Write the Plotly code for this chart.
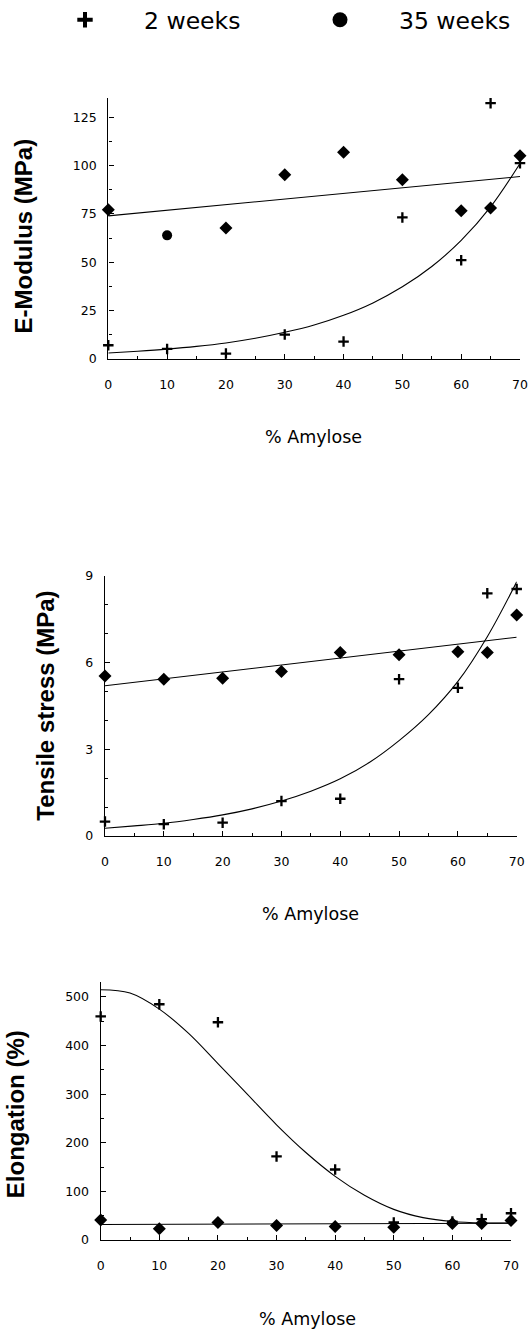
import plotly.graph_objects as go

# ---------------- data ----------------
amylose = [0, 10, 20, 30, 40, 50, 60, 65, 70]

emod_2w = [7.1, 5.2, 2.8, 12.6, 9.0, 73.2, 51.1, 132.2, 101.2]
emod_35w = [77.1, 63.9, 67.7, 95.2, 106.9, 92.6, 76.6, 78.0, 105.0]

tens_2w = [0.50, 0.41, 0.46, 1.21, 1.29, 5.43, 5.13, 8.40, 8.55]
tens_35w = [5.54, 5.43, 5.46, 5.69, 6.35, 6.27, 6.38, 6.35, 7.65]

elong_2w = [460, 485, 448, 172, 145, 36, 38, 43, 55]
elong_35w = [41, 23, 36, 30, 28, 26, 34, 34, 40]

# fitted curves as drawn in the reference
curve_x = [0, 5, 10, 15, 20, 25, 30, 35, 40, 45, 50, 55, 60, 65, 70]
emod_2w_fit = [3.1, 4.0, 5.1, 6.5, 8.3, 10.7, 13.8, 17.6, 22.6, 29.0, 37.3, 47.8, 61.3, 78.6, 101.0]
tens_2w_fit = [0.27, 0.35, 0.44, 0.57, 0.73, 0.94, 1.21, 1.55, 1.98, 2.55, 3.30, 4.20, 5.35, 6.90, 8.80]
elong_2w_fit = [515, 508, 475, 425, 363, 300, 237, 180, 131, 92, 63, 46, 38, 35, 35]

line_x = [0, 70]
emod_35w_fit = [74.0, 94.3]
tens_35w_fit = [5.20, 6.88]
elong_35w_fit = [32, 34.5]

legend_labels = ["2 weeks", "35 weeks"]
x_title = "% Amylose"
y_titles = ["E-Modulus (MPa)", "Tensile stress (MPa)", "Elongation (%)"]

# ---------------- figure ----------------
W, H = 529, 1330
REG = "DejaVu Sans, Liberation Sans, Arial, sans-serif"
BOLD = "Liberation Sans, Arial, Helvetica, sans-serif"

fig = go.Figure()

plus = dict(symbol="cross-thin", size=7.5, color="black", line=dict(color="black", width=2.3))
diam = dict(symbol="diamond", size=10, color="black", line=dict(width=0))


def add_panel(ax, y2w, y35w, fit2w, fit35w, sym35=None):
    xa = "x" if ax == 1 else f"x{ax}"
    ya = "y" if ax == 1 else f"y{ax}"
    fig.add_trace(go.Scatter(x=curve_x, y=fit2w, mode="lines",
                             line=dict(color="black", width=1.1, shape="spline", smoothing=1.0),
                             xaxis=xa, yaxis=ya, showlegend=False, hoverinfo="skip"))
    fig.add_trace(go.Scatter(x=line_x, y=fit35w, mode="lines", line=dict(color="black", width=1.1),
                             xaxis=xa, yaxis=ya, showlegend=False, hoverinfo="skip"))
    m35 = dict(diam)
    if sym35 is not None:
        m35["symbol"] = sym35
    fig.add_trace(go.Scatter(x=amylose, y=y35w, mode="markers", marker=m35, cliponaxis=False,
                             xaxis=xa, yaxis=ya, showlegend=False))
    fig.add_trace(go.Scatter(x=amylose, y=y2w, mode="markers", marker=plus, cliponaxis=False,
                             xaxis=xa, yaxis=ya, showlegend=False))


sym_e = ["diamond", "circle", "diamond", "diamond", "diamond", "diamond", "diamond", "diamond", "diamond"]
add_panel(1, emod_2w, emod_35w, emod_2w_fit, emod_35w_fit, sym_e)
add_panel(2, tens_2w, tens_35w, tens_2w_fit, tens_35w_fit)
add_panel(3, elong_2w, elong_35w, elong_2w_fit, elong_35w_fit)

# legend-only traces (two separate legends to match the spacing)
fig.add_trace(go.Scatter(x=[None], y=[None], mode="markers", name=legend_labels[0], legend="legend",
                         marker=dict(symbol="cross-thin", size=11, color="black",
                                     line=dict(color="black", width=4))))
fig.add_trace(go.Scatter(x=[None], y=[None], mode="markers", name=legend_labels[1], legend="legend2",
                         marker=dict(symbol="circle", size=15, color="black")))


def px_x(p):
    return p / W


def px_y(p):
    return 1 - p / H


panels = [
    # (x0, x1, ytop, ybottom, yrange, dtick, minor)
    (108.3, 520.0, 98.0, 359.0, [0, 134.9], 25, 12.5),
    (105.0, 516.7, 576.0, 836.0, [0, 9], 3, 1),
    (100.7, 511.0, 982.0, 1240.0, [0, 530.8], 100, 50),
]

axis_common = dict(showgrid=False, zeroline=False, showline=True, linecolor="black", linewidth=1.4,
                   ticks="inside", ticklen=5, tickwidth=1.2, tickcolor="black",
                   tickfont=dict(family=REG, size=12.5, color="black"))

layout = dict(width=W, height=H, margin=dict(l=0, r=0, t=0, b=0, autoexpand=False),
              paper_bgcolor="white", plot_bgcolor="white", font=dict(family=REG, color="black"))

for i, (x0, x1, yt, yb, yr, dt, mn) in enumerate(panels, start=1):
    sx = "xaxis" if i == 1 else f"xaxis{i}"
    sy = "yaxis" if i == 1 else f"yaxis{i}"
    anc_y = "y" if i == 1 else f"y{i}"
    anc_x = "x" if i == 1 else f"x{i}"
    layout[sx] = dict(axis_common, domain=[px_x(x0), px_x(x1)], anchor=anc_y, range=[0, 70],
                      tick0=0, dtick=10, ticklabelstandoff=14,
                      minor=dict(ticks="inside", ticklen=3, tickwidth=1, tickcolor="black", tick0=0, dtick=5))
    layout[sy] = dict(axis_common, domain=[px_y(yb), px_y(yt)], anchor=anc_x, range=yr,
                      tick0=0, dtick=dt, ticklabelstandoff=8,
                      minor=dict(ticks="inside", ticklen=3, tickwidth=1, tickcolor="black", tick0=0, dtick=mn))

fig.update_layout(**layout)

leg_common = dict(orientation="h", yanchor="middle", xanchor="left", itemwidth=108,
                  font=dict(family=REG, size=23.5, color="black"),
                  bgcolor="rgba(0,0,0,0)", borderwidth=0)
fig.update_layout(
    showlegend=True,
    legend=dict(leg_common, x=px_x(26), y=px_y(20)),
    legend2=dict(leg_common, x=px_x(281), y=px_y(20)),
)

annos = []
for xc, yc in [(313, 437), (310, 914), (307, 1319)]:
    annos.append(dict(text=x_title, x=px_x(xc), y=px_y(yc), xref="paper", yref="paper",
                      xanchor="center", yanchor="middle", showarrow=False,
                      font=dict(family=REG, size=17.5, color="black")))
for t, (xc, yc) in zip(y_titles, [(22.5, 236), (44.7, 706), (15.2, 1114)]):
    annos.append(dict(text=f"<b>{t}</b>", x=px_x(xc), y=px_y(yc), xref="paper", yref="paper",
                      xanchor="center", yanchor="middle", showarrow=False, textangle=-90,
                      font=dict(family=BOLD, size=24, color="black")))
fig.update_layout(annotations=annos)

fig.write_html("out.html", config={"displayModeBar": False},
               post_script="document.body.style.margin='0';")
